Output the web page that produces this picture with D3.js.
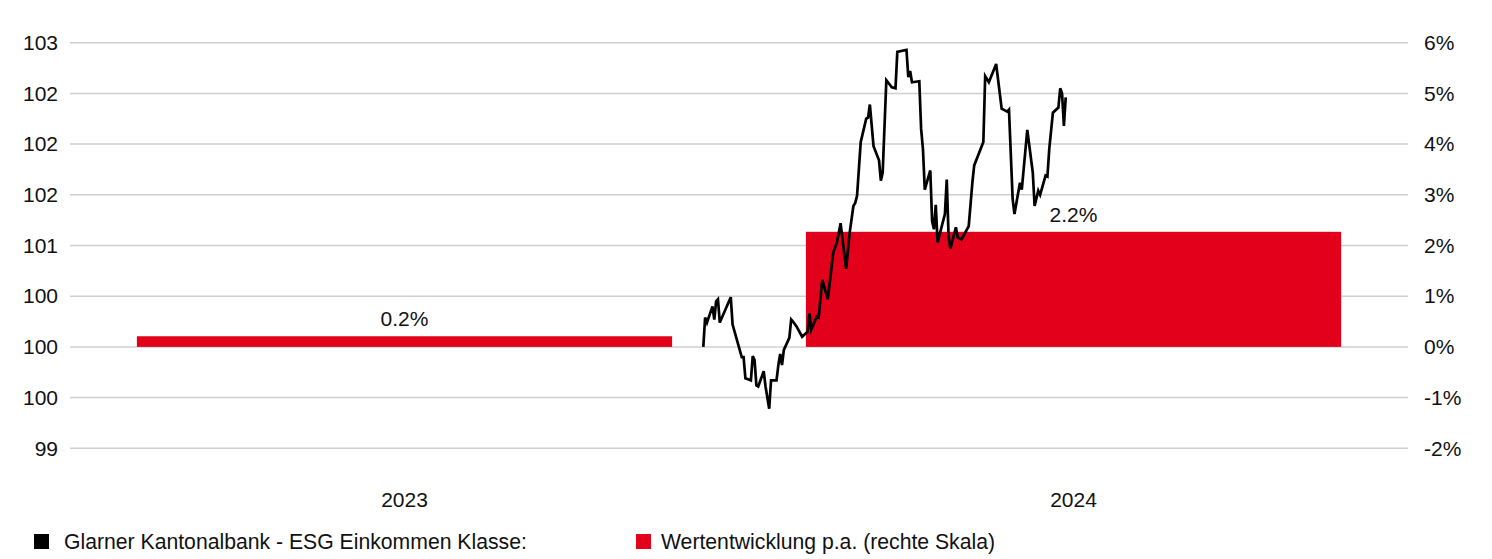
<!DOCTYPE html>
<html>
<head>
<meta charset="utf-8">
<script src="https://cdn.jsdelivr.net/npm/d3@7"></script>
<style>
  body { margin: 0; background: #fff; }
  text { font-family: "Liberation Sans", Arial, sans-serif; fill: #111; }
</style>
</head>
<body>
<div id="chart"></div>
<script>
var svgWidth = 1492;
var svgHeight = 559;

var margin = {
  left: 70,
  right: 84,
  top: 42.7,
  bottom: 110.7
};

// yearly performance bars (right scale, %)
var years = ["2023", "2024"];
var perfValues = [0.21, 2.27];
var perfLabels = ["0.2%", "2.2%"];

// ticks
var pctTicks = [-2, -1, 0, 1, 2, 3, 4, 5, 6];
var priceTicks = [99, 99.5, 100, 100.5, 101, 101.5, 102, 102.5, 103];
var priceTickLabels = ["99", "100", "100", "100", "101", "102", "102", "102", "103"];

// fund price series
var navDates = [
  "2023-12-13", "2023-12-14", "2023-12-15", "2023-12-18", "2023-12-19", "2023-12-20",
  "2023-12-21", "2023-12-22", "2023-12-28", "2023-12-29", "2024-01-03", "2024-01-04",
  "2024-01-05", "2024-01-08", "2024-01-09", "2024-01-10", "2024-01-11", "2024-01-12",
  "2024-01-15", "2024-01-16", "2024-01-18", "2024-01-19", "2024-01-22", "2024-01-23",
  "2024-01-24", "2024-01-25", "2024-01-26", "2024-01-29", "2024-01-30", "2024-01-31",
  "2024-02-02", "2024-02-05", "2024-02-08", "2024-02-09", "2024-02-10", "2024-02-13",
  "2024-02-14", "2024-02-16", "2024-02-19", "2024-02-22", "2024-02-24", "2024-02-26",
  "2024-02-29", "2024-03-02", "2024-03-04", "2024-03-05", "2024-03-06", "2024-03-08",
  "2024-03-11", "2024-03-12", "2024-03-13", "2024-03-15", "2024-03-18", "2024-03-19",
  "2024-03-20", "2024-03-22", "2024-03-25", "2024-03-27", "2024-03-28", "2024-04-02",
  "2024-04-03", "2024-04-04", "2024-04-05", "2024-04-09", "2024-04-10", "2024-04-11",
  "2024-04-12", "2024-04-15", "2024-04-16", "2024-04-17", "2024-04-18", "2024-04-19",
  "2024-04-23", "2024-04-24", "2024-04-25", "2024-04-26", "2024-04-29", "2024-04-30",
  "2024-05-02", "2024-05-06", "2024-05-08", "2024-05-09", "2024-05-14", "2024-05-15",
  "2024-05-17", "2024-05-21", "2024-05-24", "2024-05-27", "2024-05-28", "2024-05-30",
  "2024-05-31", "2024-06-03", "2024-06-04", "2024-06-07", "2024-06-10", "2024-06-11",
  "2024-06-13", "2024-06-14", "2024-06-17", "2024-06-18", "2024-06-19", "2024-06-21",
  "2024-06-24", "2024-06-25", "2024-06-26", "2024-06-27", "2024-06-28"
];
var navValues = [
  100.00, 100.29, 100.24, 100.40, 100.27, 100.45,
  100.47, 100.24, 100.49, 100.22, 99.90, 99.90,
  99.69, 99.67, 99.91, 99.87, 99.62, 99.61,
  99.76, 99.61, 99.39, 99.67, 99.67, 99.82,
  99.93, 99.82, 99.97, 100.09, 100.27, 100.25,
  100.20, 100.10, 100.15, 100.33, 100.17, 100.30,
  100.29, 100.66, 100.47, 100.93, 101.03, 101.22,
  100.77, 101.13, 101.39, 101.42, 101.49, 102.02,
  102.25, 102.26, 102.39, 101.98, 101.84, 101.64,
  101.72, 102.63, 102.56, 102.55, 102.91, 102.93,
  102.66, 102.72, 102.61, 102.62, 102.15, 101.95,
  101.55, 101.74, 101.24, 101.16, 101.40, 101.03,
  101.31, 101.65, 101.09, 100.97, 101.18, 101.08,
  101.06, 101.19, 101.62, 101.79, 102.02, 102.67,
  102.61, 102.79, 102.35, 102.32, 102.34, 101.46,
  101.31, 101.62, 101.55, 102.14, 101.72, 101.39,
  101.54, 101.50, 101.69, 101.68, 101.95, 102.31,
  102.36, 102.55, 102.50, 102.18, 102.46
];

var legendNames = ["Glarner Kantonalbank - ESG Einkommen Klasse:", "Wertentwicklung p.a. (rechte Skala)"];
var legendColors = ["#000000", "#e2001a"];

var chartWidth = svgWidth - margin.left - margin.right;
var chartHeight = svgHeight - margin.top - margin.bottom;

var svg = d3.select("#chart").append("svg")
  .attr("width", svgWidth)
  .attr("height", svgHeight);

var chartGroup = svg.append("g")
  .attr("transform", `translate(${margin.left}, ${margin.top})`);

// scales
var yPct = d3.scaleLinear().domain([-2, 6]).range([chartHeight, 0]);
var yPrice = d3.scaleLinear().domain([99, 103]).range([chartHeight, 0]);
var xBand = d3.scaleBand().domain(years).range([0, chartWidth])
  .paddingInner(0.2).paddingOuter(0.1);
var parseDate = d3.timeParse("%Y-%m-%d");
var xTime = d3.scaleTime()
  .domain([parseDate("2023-01-01"), parseDate("2025-01-01")])
  .range([0, chartWidth]);

// gridlines
chartGroup.append("g")
  .selectAll("line")
  .data(pctTicks)
  .enter()
  .append("line")
  .attr("x1", 0)
  .attr("x2", chartWidth)
  .attr("y1", d => yPct(d))
  .attr("y2", d => yPct(d))
  .attr("stroke", "#cfcfcf")
  .attr("stroke-width", 1.5);

// left axis (price)
var leftAxis = d3.axisLeft(yPrice)
  .tickValues(priceTicks)
  .tickSize(0)
  .tickPadding(12)
  .tickFormat((d, i) => priceTickLabels[i]);

chartGroup.append("g")
  .call(leftAxis)
  .call(g => g.select(".domain").remove())
  .selectAll("text")
  .attr("font-size", "21px")
  .attr("font-family", null)
  .attr("fill", null);

// right axis (%)
var rightAxis = d3.axisRight(yPct)
  .tickValues(pctTicks)
  .tickSize(0)
  .tickPadding(16)
  .tickFormat(d => d + "%");

chartGroup.append("g")
  .attr("transform", `translate(${chartWidth}, 0)`)
  .call(rightAxis)
  .call(g => g.select(".domain").remove())
  .selectAll("text")
  .attr("font-size", "21px")
  .attr("font-family", null)
  .attr("fill", null);

// bottom axis (years)
var bottomAxis = d3.axisBottom(xBand).tickSize(0).tickPadding(44);

chartGroup.append("g")
  .attr("transform", `translate(0, ${chartHeight})`)
  .call(bottomAxis)
  .call(g => g.select(".domain").remove())
  .selectAll("text")
  .attr("font-size", "21px")
  .attr("font-family", null)
  .attr("fill", null);

// performance bars
chartGroup.selectAll(".perfBar")
  .data(years)
  .enter()
  .append("rect")
  .classed("perfBar", true)
  .attr("x", d => xBand(d))
  .attr("width", xBand.bandwidth())
  .attr("y", (d, i) => yPct(Math.max(0, perfValues[i])))
  .attr("height", (d, i) => Math.abs(yPct(perfValues[i]) - yPct(0)))
  .attr("fill", "#e2001a");

chartGroup.selectAll(".perfLabel")
  .data(years)
  .enter()
  .append("text")
  .classed("perfLabel", true)
  .attr("x", d => xBand(d) + xBand.bandwidth() / 2)
  .attr("y", (d, i) => yPct(perfValues[i]) - 10)
  .attr("text-anchor", "middle")
  .attr("font-size", "21px")
  .text((d, i) => perfLabels[i]);

// price line
var lineData = navDates.map((d, i) => ({ date: parseDate(d), value: navValues[i] }));

var navLine = d3.line()
  .x(d => xTime(d.date))
  .y(d => yPrice(d.value));

chartGroup.append("path")
  .datum(lineData)
  .attr("d", navLine)
  .attr("fill", "none")
  .attr("stroke", "#000")
  .attr("stroke-width", 2.7)
  .attr("stroke-linejoin", "miter");

// legend
var legendX = [34, 636];
var legendTextX = [30, 25];
var legend = svg.selectAll(".legendItem")
  .data(legendNames)
  .enter()
  .append("g")
  .classed("legendItem", true)
  .attr("transform", (d, i) => `translate(${legendX[i]}, 534)`);

legend.append("rect")
  .attr("width", 15)
  .attr("height", 15)
  .attr("fill", (d, i) => legendColors[i]);

legend.append("text")
  .attr("x", (d, i) => legendTextX[i])
  .attr("y", 15)
  .attr("font-size", "21.2px")
  .text(d => d);
</script>
</body>
</html>
